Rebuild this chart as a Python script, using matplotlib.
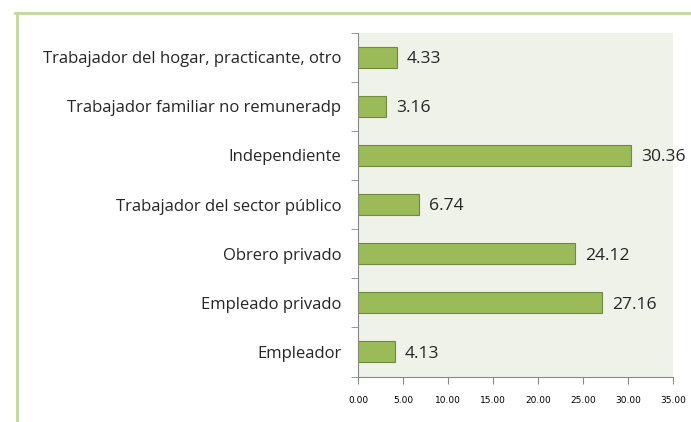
import matplotlib
matplotlib.use('Agg')
import matplotlib.pyplot as plt
from matplotlib.lines import Line2D
import numpy as np

categories = ['Empleador', 'Empleado privado', 'Obrero privado',
              'Trabajador del sector público', 'Independiente',
              'Trabajador familiar no remuneradp',
              'Trabajador del hogar, practicante, otro']
values = [4.13, 27.16, 24.12, 6.74, 30.36, 3.16, 4.33]
xticks = [0, 5, 10, 15, 20, 25, 30, 35]

fig = plt.figure(figsize=(6.91, 4.22), dpi=100)
ax = fig.add_axes([358 / 691, 1 - 376.5 / 422, 315 / 691, 344 / 422])
ax.set_facecolor('#eff2e8')

pos = np.arange(len(categories))
ax.barh(pos, values, height=0.43, color='#9bbb59', edgecolor='#71893f', linewidth=0.8)
for p, v in zip(pos, values):
    ax.text(v + 1.1, p - 0.04, '%.2f' % v, va='center', ha='left', fontsize=12.6,
            family='Open Sans', color='#262626')

ax.set_xlim(0, 35)
ax.set_ylim(-0.5, len(categories) - 0.5)
ax.set_xticks(xticks)
ax.set_xticklabels(['%.2f' % t for t in xticks], fontsize=6.5, family='DejaVu Sans')
ax.set_yticks(pos)
ax.set_yticklabels(categories, fontsize=12, family='Open Sans', color='#262626')
ax.set_yticks(np.arange(-0.5, len(categories)), minor=True)
ax.tick_params(axis='y', which='major', length=0, pad=12)
ax.tick_params(axis='y', which='minor', length=5, color='#888888')
ax.tick_params(axis='x', length=5, color='#888888', pad=9)
for s in ['top', 'right']:
    ax.spines[s].set_visible(False)
ax.spines['left'].set_color('#888888')
ax.spines['bottom'].set_color('#888888')

# outer frame
fig.add_artist(Line2D([15 / 691, 1], [1 - 13 / 422, 1 - 13 / 422],
                      transform=fig.transFigure, color='#c3d69b', lw=2))
fig.add_artist(Line2D([17 / 691, 17 / 691], [0, 1 - 13 / 422],
                      transform=fig.transFigure, color='#c3d69b', lw=2))

fig.savefig('out.png', dpi=100)
